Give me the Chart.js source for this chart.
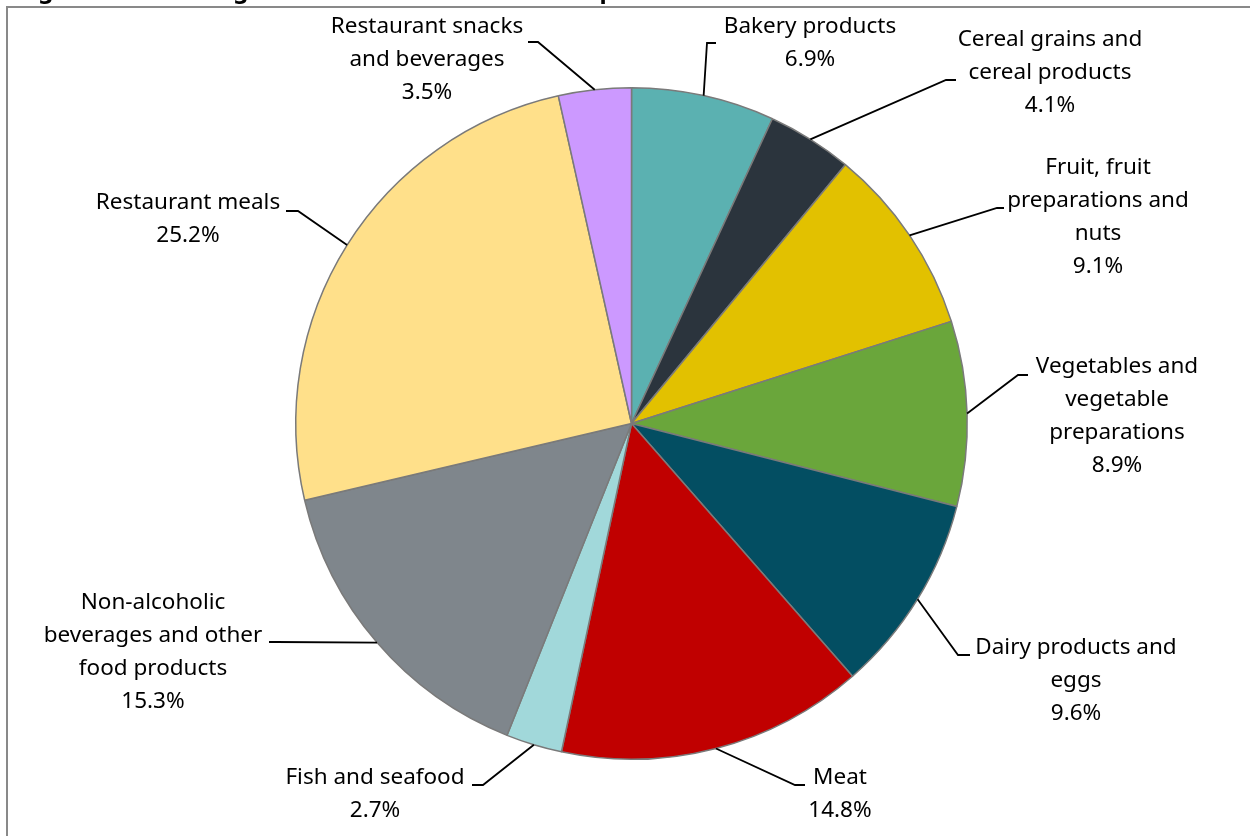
<!DOCTYPE html>
<html>
<head>
<meta charset="utf-8">
<script src="https://cdn.jsdelivr.net/npm/chart.js@4.4.1/dist/chart.umd.min.js"></script>
<style>
  html, body { margin: 0; padding: 0; background: #fff; overflow: hidden; }
  #wrap { position: relative; width: 1250px; height: 836px; }
  #frame { position: absolute; left: 6px; top: 6px; width: 1400px; height: 1000px;
           border-left: 2px solid #898989; border-top: 2px solid #898989; }
  canvas { position: absolute; left: 0; top: 0; }
</style>
</head>
<body>
<div id="wrap">
  <div id="frame"></div>
  <canvas id="pie" width="1250" height="836"></canvas>
</div>
<script>
// shares of food spending, clockwise from 12 o'clock
const categories = [
  ["Bakery products"],
  ["Cereal grains and", "cereal products"],
  ["Fruit, fruit", "preparations and", "nuts"],
  ["Vegetables and", "vegetable", "preparations"],
  ["Dairy products and", "eggs"],
  ["Meat"],
  ["Fish and seafood"],
  ["Non-alcoholic", "beverages and other", "food products"],
  ["Restaurant meals"],
  ["Restaurant snacks", "and beverages"]
];
const shares = [6.9, 4.1, 9.1, 8.9, 9.6, 14.8, 2.7, 15.3, 25.2, 3.5];
const sliceColors = ["#5BB1B1", "#2B343D", "#E2C100", "#6AA63B", "#034E62",
                     "#C00000", "#A1D8DA", "#7F868C", "#FFE08A", "#CC99FF"];

const TITLE = "Figure 2: Percentage distribution of total food expenditure";

// where each callout sits: text centre x, first line y, leader elbow and end
const callouts = [
  { x: 810,  y: 27,  elbow: [707, 43],  end: [716, 43] },
  { x: 1050, y: 40,  elbow: [946, 80],  end: [956, 80] },
  { x: 1098, y: 168, elbow: [997, 208], end: [1004, 208] },
  { x: 1117, y: 367, elbow: [1018, 375], end: [1028, 375] },
  { x: 1076, y: 648, elbow: [958, 655], end: [970, 655] },
  { x: 840,  y: 778, elbow: [795, 785], end: [805, 785] },
  { x: 375,  y: 778, elbow: [483, 785], end: [472, 785] },
  { x: 153,  y: 603, elbow: [276, 642], end: [269, 642] },
  { x: 188,  y: 203, elbow: [298, 211], end: [286, 211] },
  { x: 427,  y: 27,  elbow: [538, 42],  end: [528, 42] }
];
const LINE_H = 33;
const FONT = "22.5px 'Noto Sans', 'Open Sans', sans-serif";

const calloutPlugin = {
  id: "callouts",
  afterDatasetsDraw(chart) {
    const ctx = chart.ctx;
    const arcs = chart.getDatasetMeta(0).data;
    ctx.save();
    // leader lines from the rim of each slice
    ctx.strokeStyle = "#000";
    ctx.lineWidth = 1.8;
    arcs.forEach((a, i) => {
      const mid = (a.startAngle + a.endAngle) / 2;
      const px = a.x + Math.cos(mid) * a.outerRadius;
      const py = a.y + Math.sin(mid) * a.outerRadius;
      const c = callouts[i];
      ctx.beginPath();
      ctx.moveTo(px, py);
      ctx.lineTo(c.elbow[0], c.elbow[1]);
      ctx.lineTo(c.end[0], c.end[1]);
      ctx.stroke();
    });
    // label text + percentage
    ctx.fillStyle = "#000";
    ctx.font = FONT;
    ctx.textAlign = "center";
    ctx.textBaseline = "middle";
    categories.forEach((lines, i) => {
      const c = callouts[i];
      const all = lines.concat([shares[i].toFixed(1) + "%"]);
      all.forEach((t, k) => ctx.fillText(t, c.x, c.y + k * LINE_H));
    });
    // heading sits mostly above the page edge
    ctx.font = "bold 24px 'Noto Sans', 'Open Sans', sans-serif";
    ctx.textAlign = "left";
    ctx.textBaseline = "alphabetic";
    ctx.fillText(TITLE, 18, -2);
    ctx.restore();
  }
};

new Chart(document.getElementById("pie"), {
  type: "pie",
  data: {
    labels: categories,
    datasets: [{
      data: shares,
      backgroundColor: sliceColors,
      borderColor: "#7A7A7A",
      borderWidth: 1.5
    }]
  },
  options: {
    responsive: false,
    animation: false,
    layout: { padding: { left: 295, right: 282, top: 87, bottom: 76 } },
    plugins: { legend: { display: false }, tooltip: { enabled: false } }
  },
  plugins: [calloutPlugin]
});
</script>
</body>
</html>
